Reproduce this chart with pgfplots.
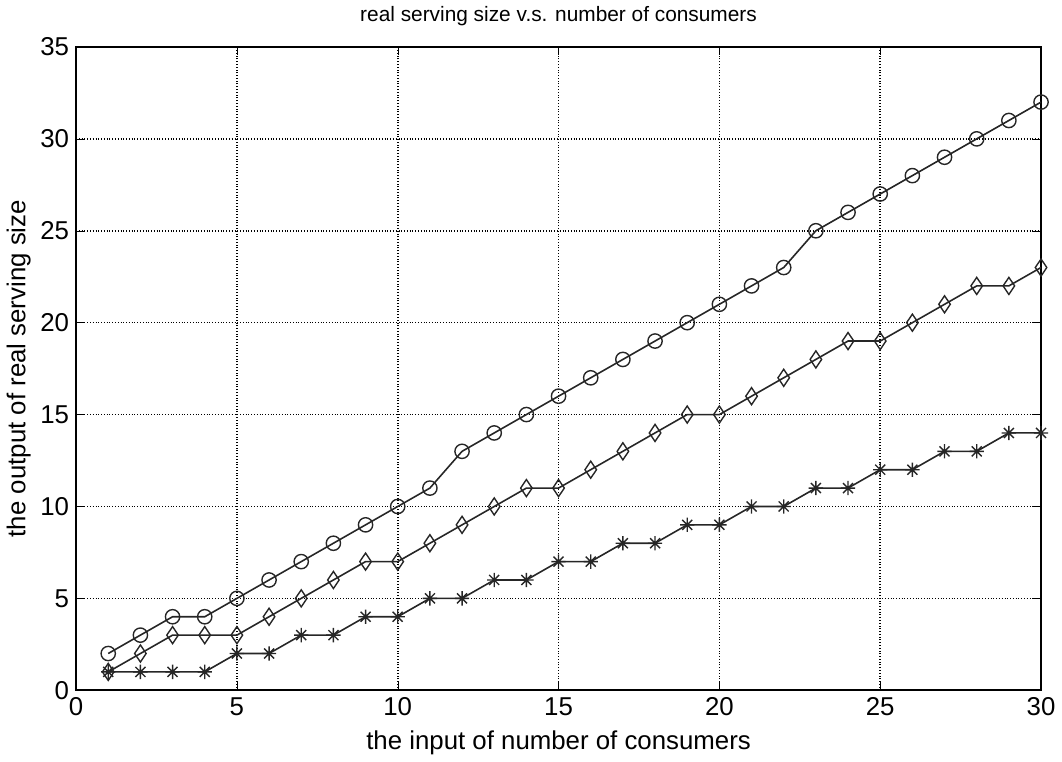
\documentclass[border=0pt]{standalone}
\usepackage{pgfplots}
\pgfplotsset{compat=1.18}
\usepackage{fontspec}
\setmainfont{Liberation Sans}
\pgfdeclareplotmark{mstar}{%
  \pgfpathmoveto{\pgfqpoint{-\pgfplotmarksize}{0pt}}\pgfpathlineto{\pgfqpoint{\pgfplotmarksize}{0pt}}%
  \pgfpathmoveto{\pgfqpoint{0pt}{-\pgfplotmarksize}}\pgfpathlineto{\pgfqpoint{0pt}{\pgfplotmarksize}}%
  \pgfpathmoveto{\pgfqpoint{-0.7\pgfplotmarksize}{-0.7\pgfplotmarksize}}\pgfpathlineto{\pgfqpoint{0.7\pgfplotmarksize}{0.7\pgfplotmarksize}}%
  \pgfpathmoveto{\pgfqpoint{-0.7\pgfplotmarksize}{0.7\pgfplotmarksize}}\pgfpathlineto{\pgfqpoint{0.7\pgfplotmarksize}{-0.7\pgfplotmarksize}}%
  \pgfusepathqstroke}
\begin{document}
\begin{tikzpicture}
\begin{axis}[
  scale only axis,
  width=486pt, height=324pt,
  xmin=0, xmax=30, ymin=0, ymax=35,
  xtick={0,5,...,30}, ytick={0,5,...,35},
  tick align=inside,
  major tick length=4pt,
  xmajorgrids, ymajorgrids,
  grid style={black, densely dotted, line width=0.8pt},
  axis line style={black, line width=0.9pt},
  tick style={black},
  /pgf/number format/assume math mode=true,
  ticklabel style={font=\fontsize{13}{15}\selectfont},
  title={real serving size v.s. number of consumers},
  title style={font=\fontsize{10.5}{12}\selectfont, yshift=1pt},
  xlabel={the input of number of consumers},
  ylabel={the output of real serving size},
  label style={font=\fontsize{13}{15}\selectfont},
  xlabel style={yshift=-1pt},
  ylabel style={yshift=-2pt},
]
\addplot[black!85, line width=0.8pt, mark=o, mark size=3.6pt, mark options={solid, line width=0.7pt}] coordinates {
(1,2)(2,3)(3,4)(4,4)(5,5)(6,6)(7,7)(8,8)(9,9)(10,10)
(11,11)(12,13)(13,14)(14,15)(15,16)(16,17)(17,18)(18,19)(19,20)(20,21)
(21,22)(22,23)(23,25)(24,26)(25,27)(26,28)(27,29)(28,30)(29,31)(30,32)};
\addplot[black!85, line width=0.8pt, mark=diamond, mark size=4.3pt, mark options={solid, line width=0.7pt, xscale=0.9}] coordinates {
(1,1)(2,2)(3,3)(4,3)(5,3)(6,4)(7,5)(8,6)(9,7)(10,7)
(11,8)(12,9)(13,10)(14,11)(15,11)(16,12)(17,13)(18,14)(19,15)(20,15)
(21,16)(22,17)(23,18)(24,19)(25,19)(26,20)(27,21)(28,22)(29,22)(30,23)};
\addplot[black!85, line width=0.8pt, mark=mstar, mark size=3.6pt, mark options={solid, line width=0.7pt}] coordinates {
(1,1)(2,1)(3,1)(4,1)(5,2)(6,2)(7,3)(8,3)(9,4)(10,4)
(11,5)(12,5)(13,6)(14,6)(15,7)(16,7)(17,8)(18,8)(19,9)(20,9)
(21,10)(22,10)(23,11)(24,11)(25,12)(26,12)(27,13)(28,13)(29,14)(30,14)};
\end{axis}
\end{tikzpicture}
\end{document}
